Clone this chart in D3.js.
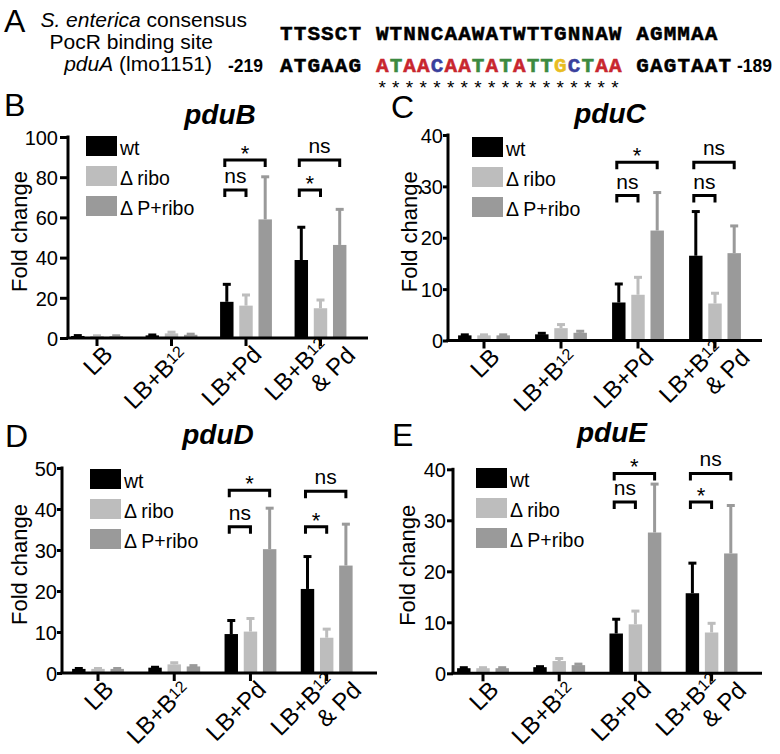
<!DOCTYPE html>
<html><head><meta charset="utf-8">
<script src="https://cdn.jsdelivr.net/npm/d3@7"></script>
<style>
body{margin:0;background:#fff}
svg{display:block}
text{font-family:"Liberation Sans",Arial,Helvetica,sans-serif;fill:#000}
text.mono{font-family:"Liberation Mono","DejaVu Sans Mono",monospace}
</style>
</head><body>
<svg id="chart" width="780" height="754"></svg>
<script>
// ---------------- DATA ----------------
const categories = ["LB", "LB+B12", "LB+Pd", "LB+B12 & Pd"];
const seriesNames = ["wt", "Δ ribo", "Δ P+ribo"];
const seriesColors = ["#000000", "#bdbdbd", "#9a9a9a"];

// pduB
const pduB_wt      = [1.0, 1.3, 18.0, 38.8];
const pduB_wtSD    = [0.2, 0.2, 8.7, 16.3];
const pduB_ribo    = [1.0, 2.3, 16.1, 14.8];
const pduB_riboSD  = [0.1, 0.6, 5.3, 4.1];
const pduB_dPribo  = [1.0, 1.6, 59.0, 46.3];
const pduB_dPriboSD= [0.1, 0.3, 21.2, 17.7];
const pduB_ticks   = [0, 20, 40, 60, 80, 100];
const pduB_sig     = [
  {cat: 2, from: 0, to: 2, level: 88.6, label: "*"},
  {cat: 2, from: 0, to: 1, level: 73.6, label: "ns"},
  {cat: 3, from: 0, to: 2, level: 88.6, label: "ns"},
  {cat: 3, from: 0, to: 1, level: 73.6, label: "*"}
];

// pduC
const pduC_wt      = [1.0, 1.2, 7.4, 16.5];
const pduC_wtSD    = [0.1, 0.2, 3.6, 8.6];
const pduC_ribo    = [1.0, 2.4, 8.9, 7.2];
const pduC_riboSD  = [0.1, 0.7, 3.4, 2.0];
const pduC_dPribo  = [1.0, 1.5, 21.4, 17.0];
const pduC_dPriboSD= [0.1, 0.3, 7.4, 5.3];
const pduC_ticks   = [0, 10, 20, 30, 40];
const pduC_sig     = [
  {cat: 2, from: 0, to: 2, level: 34.7, label: "*"},
  {cat: 2, from: 0, to: 1, level: 28.2, label: "ns"},
  {cat: 3, from: 0, to: 2, level: 34.7, label: "ns"},
  {cat: 3, from: 0, to: 1, level: 28.2, label: "ns"}
];

// pduD
const pduD_wt      = [1.0, 1.3, 9.5, 20.5];
const pduD_wtSD    = [0.1, 0.1, 3.3, 7.9];
const pduD_ribo    = [1.0, 2.1, 10.1, 8.6];
const pduD_riboSD  = [0.1, 0.4, 3.2, 2.1];
const pduD_dPribo  = [1.0, 1.6, 30.2, 26.2];
const pduD_dPriboSD= [0.1, 0.2, 10.0, 10.1];
const pduD_ticks   = [0, 10, 20, 30, 40, 50];
const pduD_sig     = [
  {cat: 2, from: 0, to: 2, level: 44.6, label: "*"},
  {cat: 2, from: 0, to: 1, level: 35.7, label: "ns"},
  {cat: 3, from: 0, to: 2, level: 44.3, label: "ns"},
  {cat: 3, from: 0, to: 1, level: 35.7, label: "*"}
];

// pduE
const pduE_wt      = [1.0, 1.2, 7.8, 15.7];
const pduE_wtSD    = [0.1, 0.1, 2.8, 5.9];
const pduE_ribo    = [1.0, 2.4, 9.6, 8.0];
const pduE_riboSD  = [0.1, 0.5, 2.6, 1.8];
const pduE_dPribo  = [1.0, 1.6, 27.6, 23.5];
const pduE_dPriboSD= [0.1, 0.2, 9.5, 9.4];
const pduE_ticks   = [0, 10, 20, 30, 40];
const pduE_sig     = [
  {cat: 2, from: 0, to: 2, level: 39.2, label: "*"},
  {cat: 2, from: 0, to: 1, level: 33.6, label: "ns"},
  {cat: 3, from: 0, to: 2, level: 39.2, label: "ns"},
  {cat: 3, from: 0, to: 1, level: 33.6, label: "*"}
];

// Panel A sequences
const consensusSeq = "TTSSCT WTNNCAAWATWTTGNNAW AGMMAA";
const pduASeq      = "ATGAAG ATAACAATATATTGCTAA GAGTAAT";
const coloredRange = [7, 24];   // indices of the matched (coloured) stretch
const baseColors = {A: "#c8262e", T: "#3c8a40", C: "#3a3f9c", G: "#e8bd22"};

// ---------------- LAYOUT ----------------
const panels = [
  {letter: "B", gene: "pduB", vals: [pduB_wt, pduB_ribo, pduB_dPribo], sds: [pduB_wtSD, pduB_riboSD, pduB_dPriboSD],
   ticks: pduB_ticks, sig: pduB_sig, tickLen: 8, tickPad: 2,
   x0: 68, x1: 368, top: 137, bot: 338, bandL: 59.75, bandR: 357.75,
   letterPos: [4, 116], titlePos: [220, 124], legendPos: [86, 136], ylabX: 27},
  {letter: "C", gene: "pduC", vals: [pduC_wt, pduC_ribo, pduC_dPribo], sds: [pduC_wtSD, pduC_riboSD, pduC_dPriboSD],
   ticks: pduC_ticks, sig: pduC_sig, tickLen: 5, tickPad: 0,
   x0: 448, x1: 762, top: 135, bot: 340.5, bandL: 445.5, bandR: 753.5,
   letterPos: [391, 118], titlePos: [610, 123], legendPos: [472, 137], ylabX: 417},
  {letter: "D", gene: "pduD", vals: [pduD_wt, pduD_ribo, pduD_dPribo], sds: [pduD_wtSD, pduD_riboSD, pduD_dPriboSD],
   ticks: pduD_ticks, sig: pduD_sig, tickLen: 5, tickPad: 0,
   x0: 62, x1: 377, top: 468, bot: 673, bandL: 59.9, bandR: 364.8,
   letterPos: [5, 447], titlePos: [218, 444], legendPos: [90, 469], ylabX: 27},
  {letter: "E", gene: "pduE", vals: [pduE_wt, pduE_ribo, pduE_dPribo], sds: [pduE_wtSD, pduE_riboSD, pduE_dPriboSD],
   ticks: pduE_ticks, sig: pduE_sig, tickLen: 6, tickPad: 1,
   x0: 453, x1: 762, top: 469.3, bot: 673.3, bandL: 444.9, bandR: 749.7,
   letterPos: [392, 446], titlePos: [612, 442], legendPos: [476, 468], ylabX: 415}
];

const svg = d3.select("#chart");

// ---------------- PANEL A ----------------
(function drawA() {
  const g = svg.append("g");
  g.append("text").attr("x", 4).attr("y", 32).attr("font-size", 32).text("A");

  const t1 = g.append("text").attr("x", 247).attr("y", 27).attr("font-size", 21).attr("text-anchor", "end");
  t1.append("tspan").attr("font-style", "italic").text("S. enterica");
  t1.append("tspan").text(" consensus");
  g.append("text").attr("x", 213).attr("y", 49).attr("font-size", 21).attr("text-anchor", "end").text("PocR binding site");
  const t3 = g.append("text").attr("x", 212).attr("y", 71).attr("font-size", 21).attr("text-anchor", "end");
  t3.append("tspan").attr("font-style", "italic").text("pduA");
  t3.append("tspan").text(" (lmo1151)");

  g.append("text").attr("x", 228).attr("y", 71.5).attr("font-size", 17.5).attr("font-weight", "bold").text("-219");
  g.append("text").attr("x", 737).attr("y", 71.5).attr("font-size", 17.5).attr("font-weight", "bold").text("-189");

  // character column scale (monospace grid)
  const n = Math.max(consensusSeq.length, pduASeq.length);
  const cx = d3.scaleLinear().domain([0, n]).range([280, 280 + n * 13.7]);
  const fs = 21, ls = 13.7 - 0.6 * fs;

  g.append("text").attr("class", "mono").attr("x", cx(0)).attr("y", 39.5)
    .attr("font-weight", "bold").attr("font-size", fs)
    .attr("letter-spacing", ls).style("white-space", "pre")
    .style("stroke", "#000").style("stroke-width", 0.5)
    .text(consensusSeq);

  // pduA row: each base as a tspan so the matched stretch can be coloured
  const t2 = g.append("text").attr("class", "mono").attr("x", cx(0)).attr("y", 71.8)
    .attr("font-weight", "bold").attr("font-size", fs)
    .attr("letter-spacing", ls).style("white-space", "pre").style("stroke-width", 0.5);
  pduASeq.split("").forEach((c, i) => {
    const col = (i >= coloredRange[0] && i <= coloredRange[1]) ? baseColors[c] : "#000";
    t2.append("tspan").style("fill", col).style("stroke", col).text(c);
  });

  g.append("text").attr("class", "mono").attr("x", cx(coloredRange[0]) + 0.5).attr("y", 94)
    .attr("font-size", 19).attr("letter-spacing", 13.7 - 0.6 * 19)
    .text("*".repeat(coloredRange[1] - coloredRange[0] + 1));
})();

// ---------------- BAR PANELS ----------------
panels.forEach(p => {
  const g = svg.append("g");
  const yMax = p.ticks[p.ticks.length - 1];
  const y = d3.scaleLinear().domain([0, yMax]).range([p.bot, p.top]);
  const x = d3.scaleBand().domain(categories).range([p.bandL, p.bandR]);
  const xs = d3.scaleBand().domain(seriesNames).range([-28.8, 28.8]).paddingInner(0.3).paddingOuter(0.15);
  const gc = c => x(c) + x.bandwidth() / 2;
  const barCenter = (ci, si) => gc(categories[ci]) + xs(seriesNames[si]) + xs.bandwidth() / 2;

  // letter & title
  g.append("text").attr("x", p.letterPos[0]).attr("y", p.letterPos[1]).attr("font-size", 32).text(p.letter);
  g.append("text").attr("x", p.titlePos[0]).attr("y", p.titlePos[1]).attr("font-size", 28)
    .attr("font-weight", "bold").attr("font-style", "italic").attr("text-anchor", "middle").text(p.gene);

  // bars
  const rows = [];
  p.vals.forEach((arr, si) => arr.forEach((v, ci) => rows.push({si, ci, v, sd: p.sds[si][ci]})));
  g.append("g").selectAll("rect").data(rows).join("rect")
    .attr("x", d => barCenter(d.ci, d.si) - xs.bandwidth() / 2)
    .attr("width", xs.bandwidth())
    .attr("y", d => y(d.v))
    .attr("height", d => y(0) - y(d.v))
    .attr("fill", d => seriesColors[d.si]);

  // error bars (upper only)
  const eg = g.append("g").attr("stroke-width", 3);
  eg.selectAll("line.v").data(rows).join("line").attr("class", "v")
    .attr("x1", d => barCenter(d.ci, d.si)).attr("x2", d => barCenter(d.ci, d.si))
    .attr("y1", d => y(d.v)).attr("y2", d => y(d.v + d.sd))
    .attr("stroke", d => seriesColors[d.si]);
  eg.selectAll("line.c").data(rows).join("line").attr("class", "c")
    .attr("x1", d => barCenter(d.ci, d.si) - 4).attr("x2", d => barCenter(d.ci, d.si) + 4)
    .attr("y1", d => y(d.v + d.sd)).attr("y2", d => y(d.v + d.sd))
    .attr("stroke", d => seriesColors[d.si]);

  // y axis
  const ya = g.append("g").attr("transform", `translate(${p.x0},0)`)
    .call(d3.axisLeft(y).tickValues(p.ticks).tickSize(p.tickLen).tickPadding(p.tickPad).tickSizeOuter(0));
  ya.select(".domain").remove();
  ya.selectAll(".tick line").attr("stroke", "#000").attr("stroke-width", 3);
  ya.selectAll(".tick text").attr("font-size", 20).attr("dy", "0.36em");
  g.append("line").attr("x1", p.x0).attr("x2", p.x0).attr("y1", y(0)).attr("y2", y(yMax) - 1.5)
    .attr("stroke", "#000").attr("stroke-width", 3);

  // x axis
  const xa = g.append("g").attr("transform", `translate(0,${p.bot})`)
    .call(d3.axisBottom(x).tickSize(8).tickFormat(""));
  xa.select(".domain").remove();
  xa.selectAll(".tick line").attr("stroke", "#000").attr("stroke-width", 3);
  g.append("line").attr("x1", p.x0 - 1.5).attr("x2", p.x1).attr("y1", p.bot).attr("y2", p.bot)
    .attr("stroke", "#000").attr("stroke-width", 3);

  // category labels, rotated
  categories.forEach(c => {
    const t = g.append("text")
      .attr("transform", `translate(${gc(c) + 17},${p.bot + 18}) rotate(-45)`)
      .attr("text-anchor", "end").attr("font-size", 24);
    if (c === "LB+B12") {
      t.append("tspan").attr("x", 0).attr("y", 0).text("LB+B");
      t.append("tspan").attr("font-size", 16).attr("dy", -5).text("12");
    } else if (c === "LB+B12 & Pd") {
      t.append("tspan").attr("x", 0).attr("y", -12).text("LB+B");
      t.append("tspan").attr("font-size", 16).attr("dy", -5).text("12");
      t.append("tspan").attr("x", 13).attr("y", 14).text("& Pd");
    } else {
      t.append("tspan").attr("x", 0).attr("y", 0).text(c);
    }
  });

  // y label
  g.append("text")
    .attr("transform", `translate(${p.ylabX},${(p.top + p.bot) / 2 - 6}) rotate(-90)`)
    .attr("text-anchor", "middle").attr("font-size", 22).text("Fold change");

  // legend
  seriesNames.forEach((s, si) => {
    const ly = p.legendPos[1] + si * 30;
    g.append("rect").attr("x", p.legendPos[0]).attr("y", ly).attr("width", 31).attr("height", 20).attr("fill", seriesColors[si]);
    g.append("text").attr("x", p.legendPos[0] + 34).attr("y", ly + 19).attr("font-size", 19.5).text(s);
  });

  // significance brackets
  const sg = g.append("g");
  p.sig.forEach(b => {
    const xa1 = barCenter(b.cat, b.from) - 2;
    const xa2 = barCenter(b.cat, b.to);
    const yy = y(b.level);
    sg.append("path")
      .attr("d", `M${xa1},${yy + 7}V${yy}H${xa2}V${yy + 7}`)
      .attr("fill", "none").attr("stroke", "#000").attr("stroke-width", 3);
    sg.append("text").attr("x", (xa1 + xa2) / 2)
      .attr("y", b.label === "*" ? yy + 1 : yy - 7)
      .attr("text-anchor", "middle").attr("font-size", b.label === "*" ? 22 : 21).text(b.label);
  });
});
</script>
</body></html>
